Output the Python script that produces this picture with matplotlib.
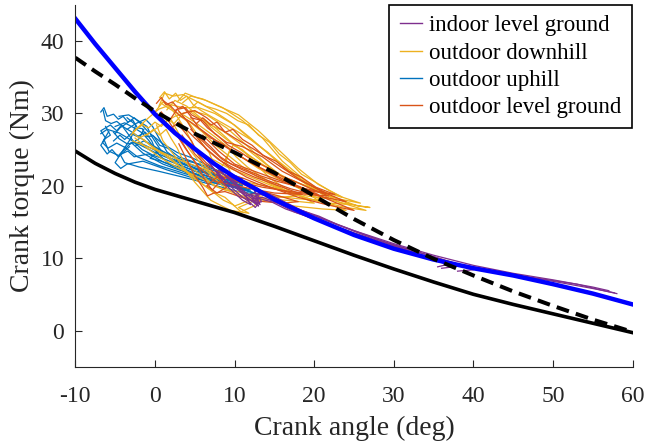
import matplotlib
matplotlib.use("Agg")
import matplotlib.pyplot as plt
from matplotlib.lines import Line2D

plt.rcParams["font.family"] = ["Liberation Serif", "DejaVu Serif"]
plt.rcParams["axes.unicode_minus"] = False

# model curves
model_x = [-10, -7.5, -5, -2.5, 0, 2.5, 5, 7.5, 10, 15, 20, 25, 30, 35, 40, 45, 50, 55, 60]
fit_blue = [43.1, 39.6, 36.3, 33.0, 29.9, 27.3, 25.1, 23.0, 21.2, 18.1, 15.5, 13.2, 11.3, 9.8, 8.6, 7.6, 6.4, 5.1, 3.6]
model_dashed = [37.7, 35.8, 34.0, 32.1, 30.3, 28.7, 27.2, 25.9, 24.6, 21.8, 18.6, 15.4, 12.5, 9.9, 7.6, 5.4, 3.4, 1.5, -0.2]
model_solid = [24.8, 23.1, 21.7, 20.5, 19.5, 18.7, 17.9, 17.1, 16.3, 14.4, 12.4, 10.4, 8.5, 6.7, 5.0, 3.6, 2.3, 1.0, -0.3]

# measured traces: (angle, torque) per trace
uphill = [
    [(-6.5, 30.4), (-6.2, 29.0), (-5.5, 28.6), (-4.8, 28.9), (-3.9, 28.1), (-3.0, 27.5), (-1.8, 26.6),
     (0.5, 25.0), (3.0, 23.6), (6.0, 22.3), (9.0, 21.0), (11.5, 20.1), (12.5, 19.8), (10.0, 20.6),
     (6.5, 21.8), (3.0, 23.2), (0.0, 24.6), (-2.5, 26.0), (-4.5, 27.3), (-6.0, 27.8), (-6.8, 27.2)],
    [(-5.8, 27.5), (-6.6, 26.0), (-5.9, 25.2), (-4.8, 25.9), (-3.6, 25.2), (-2.2, 24.0), (0.5, 22.8),
     (4.0, 21.6), (7.5, 20.6), (10.5, 19.8), (12.0, 19.2), (9.0, 20.0), (5.0, 21.0), (1.5, 22.2),
     (-1.5, 23.4), (-3.5, 23.0), (-4.3, 22.4), (-5.0, 23.2), (-4.2, 24.6), (-3.0, 26.6), (-2.4, 28.4),
     (-3.5, 29.4)],
    [(-4.5, 29.6), (-3.3, 29.8), (-2.1, 29.0), (-1.0, 28.2), (-0.5, 27.0), (0.2, 25.8), (1.0, 24.5),
     (2.5, 23.2), (5.0, 22.0), (8.0, 20.8), (11.0, 19.6), (13.0, 18.8), (10.5, 19.2), (7.0, 20.2),
     (3.5, 21.2), (0.5, 22.0), (-2.0, 22.6), (-3.8, 23.2), (-4.4, 24.4), (-3.2, 25.7), (-2.0, 26.5),
     (-1.4, 27.8)],
    [(-5.0, 28.2), (-3.8, 28.7), (-2.6, 28.0), (-1.6, 27.3), (-0.8, 26.3), (0.5, 24.3), (2.0, 22.8),
     (4.5, 21.8), (7.0, 21.2), (9.5, 20.4), (11.0, 20.0), (8.0, 21.2), (5.0, 22.5), (2.0, 23.8),
     (-0.5, 25.2), (-2.0, 26.0), (-3.5, 25.8), (-4.5, 26.5), (-5.2, 27.4)],
    [(-3.5, 27.8), (-2.4, 28.6), (-1.2, 29.2), (-0.3, 28.2), (0.5, 26.6), (1.5, 24.7), (3.5, 23.0),
     (6.5, 21.7), (9.0, 20.6), (12.0, 19.4), (8.5, 20.4), (5.5, 21.4), (3.0, 22.2), (1.0, 23.0),
     (-1.5, 24.5), (-3.0, 26.0)],
    [(-6.8, 30.2), (-6.4, 30.8), (-6.0, 29.6), (-5.2, 29.9), (-4.6, 29.2), (-4.0, 29.6), (-3.4, 28.8),
     (-2.8, 29.1), (-2.2, 28.0), (-1.6, 27.9), (-1.0, 26.8), (-0.2, 26.9), (0.6, 25.6), (1.6, 25.2),
     (3.0, 24.0), (4.6, 23.4), (6.5, 22.4), (8.2, 21.8), (10.0, 20.8), (11.8, 20.4), (10.4, 20.0),
     (8.4, 20.6), (6.0, 21.2), (3.6, 22.4), (1.2, 23.2), (-0.8, 24.4), (-2.6, 24.0), (-3.4, 24.8),
     (-4.6, 24.2), (-5.8, 24.8), (-6.4, 26.4), (-5.6, 27.0), (-6.2, 28.2)],
    [(-5.2, 26.2), (-4.4, 27.0), (-3.8, 26.4), (-3.0, 27.2), (-2.2, 26.8), (-1.2, 27.4), (-0.4, 26.2),
     (0.2, 24.6), (-0.6, 23.8), (0.8, 23.4), (2.6, 22.6), (4.6, 21.4), (6.4, 20.6), (8.6, 20.2),
     (10.6, 19.6), (12.4, 19.0), (13.0, 19.6), (11.2, 20.4), (9.0, 21.4), (7.0, 22.6), (4.8, 23.8),
     (2.8, 24.6), (1.0, 25.8), (-0.8, 27.4), (-1.8, 28.6), (-2.6, 29.4), (-3.6, 28.6), (-4.4, 28.0),
     (-5.0, 27.2)],
    [(-3.2, 25.4), (-4.6, 24.0), (-5.4, 25.0), (-6.0, 24.4), (-6.8, 25.6), (-6.2, 26.6), (-6.8, 27.6),
     (-5.6, 28.4), (-4.8, 27.6), (-4.2, 28.4), (-3.4, 27.2), (-2.6, 26.0), (-1.6, 25.0), (-0.2, 24.2),
     (1.4, 23.6), (3.2, 22.8), (5.2, 22.0), (7.2, 21.6), (9.2, 20.8), (11.0, 21.0), (9.6, 21.6),
     (7.6, 22.2), (5.6, 23.0), (3.4, 23.6), (1.6, 24.4), (0.0, 25.4), (-1.4, 26.2), (-2.4, 25.6)],
]

downhill = [
    [(0.5, 31.0), (1.2, 32.8), (2.3, 32.4), (3.5, 32.6), (5.0, 31.8), (7.0, 30.6), (9.5, 28.8),
     (12.5, 26.0), (15.5, 23.4), (19.0, 20.4), (23.0, 17.8), (26.5, 16.6), (24.0, 17.0), (20.0, 18.0),
     (16.0, 19.4), (12.5, 21.0), (9.0, 22.6), (6.0, 24.4), (3.5, 26.4), (1.5, 28.6), (0.3, 30.0)],
    [(-1.5, 28.6), (-2.8, 27.4), (-2.0, 26.6), (-0.5, 27.4), (1.0, 28.6), (2.5, 29.6), (4.5, 30.4),
     (6.5, 29.8), (9.0, 28.0), (11.5, 25.6), (14.0, 23.0), (17.0, 20.4), (20.5, 18.0), (24.0, 16.6),
     (21.0, 16.8), (17.5, 17.2), (14.5, 17.8), (11.0, 18.6), (8.0, 19.8), (5.5, 21.2), (3.0, 22.4),
     (0.8, 23.8), (-1.0, 25.2), (-2.5, 26.6)],
    [(2.8, 31.6), (3.8, 32.8), (5.2, 32.2), (6.4, 31.8), (8.5, 30.8), (11.0, 29.0), (13.5, 26.6),
     (16.0, 23.4), (19.0, 20.6), (22.0, 18.6), (25.5, 17.2), (27.0, 17.0), (23.5, 17.6), (20.0, 18.8),
     (16.5, 20.4), (13.0, 22.4), (10.0, 24.6), (7.5, 26.8), (5.0, 28.8), (3.0, 30.2)],
    [(0.0, 30.2), (1.0, 31.6), (2.0, 30.8), (3.0, 29.2), (4.0, 27.4), (5.0, 25.2), (6.0, 23.2),
     (7.2, 21.4), (8.5, 20.6), (9.5, 21.8), (8.8, 23.6), (9.8, 25.6), (11.0, 25.0), (12.5, 23.2),
     (14.5, 21.0), (17.0, 19.2), (20.0, 17.6), (16.5, 18.0), (13.0, 18.2), (10.5, 17.0), (11.8, 16.2),
     (9.5, 16.6), (7.0, 18.0), (5.0, 20.5), (3.0, 23.4), (1.0, 26.2), (0.2, 28.4)],
    [(-3.0, 27.0), (-2.0, 28.2), (-0.8, 29.4), (0.5, 30.6), (2.0, 31.2), (3.5, 30.8), (5.5, 30.8),
     (7.5, 30.0), (10.0, 28.4), (12.0, 26.6), (14.5, 24.2), (17.0, 21.8), (19.5, 19.8), (22.0, 18.2),
     (19.0, 18.6), (15.5, 19.6), (12.0, 20.4), (9.0, 21.2), (6.0, 22.4), (3.0, 23.6), (0.5, 24.8),
     (-1.5, 25.6), (-2.8, 26.2)],
    [(1.5, 30.5), (2.5, 31.8), (4.0, 31.0), (5.5, 29.6), (7.0, 28.4), (8.5, 27.6), (10.5, 26.0),
     (13.0, 23.8), (15.5, 21.6), (18.5, 19.4), (21.0, 18.0), (18.0, 18.2), (15.0, 18.6), (12.5, 18.0),
     (10.5, 18.6), (8.5, 20.0), (6.5, 22.0), (4.5, 24.8), (3.0, 27.2), (2.0, 29.2)],
    [(3.5, 31.5), (4.5, 32.4), (6.0, 32.0), (8.0, 31.0), (10.5, 29.8), (13.0, 27.6), (15.5, 25.0),
     (18.0, 22.4), (20.5, 20.2), (23.5, 18.4), (20.5, 19.4), (17.0, 20.8), (14.0, 22.6), (11.5, 24.4),
     (9.0, 26.4), (6.5, 28.6), (4.5, 30.2)],
    [(-2.4, 27.8), (-1.6, 28.4), (-0.8, 28.0), (0.0, 28.8), (0.8, 28.2), (1.6, 29.2), (2.4, 28.6),
     (3.2, 29.6), (4.2, 28.8), (5.0, 27.6), (5.8, 26.0), (6.8, 24.6), (7.4, 23.0), (8.2, 22.4),
     (9.0, 23.6), (9.4, 25.0), (10.2, 24.0), (11.6, 22.6), (13.4, 21.2), (15.6, 19.8), (17.8, 18.6),
     (15.4, 18.4), (13.2, 18.8), (11.4, 17.8), (10.0, 17.2), (8.8, 18.4), (7.2, 19.2), (5.6, 20.6),
     (4.0, 22.0), (2.4, 23.2), (0.8, 24.6), (-0.8, 25.8), (-2.0, 26.8)],
    [(0.6, 32.2), (1.2, 33.0), (1.8, 32.0), (2.6, 32.8), (3.2, 31.8), (4.0, 32.4), (4.8, 31.2),
     (5.8, 30.4), (7.0, 29.6), (8.6, 28.6), (10.2, 27.6), (12.0, 26.4), (14.2, 24.6), (16.4, 22.4),
     (18.6, 20.6), (21.2, 19.0), (24.6, 17.4), (22.0, 17.6), (19.4, 18.2), (17.0, 19.0), (14.6, 20.2),
     (12.6, 21.4), (10.8, 22.8), (9.2, 24.2), (7.6, 25.6), (6.0, 27.4), (4.4, 28.8), (2.8, 30.0),
     (1.6, 30.8), (0.8, 31.4)],
    [(-1.0, 27.0), (-0.2, 27.8), (0.6, 27.0), (1.4, 27.8), (2.0, 26.6), (2.8, 25.2), (3.4, 23.8),
     (4.4, 22.6), (5.4, 21.8), (6.4, 21.0), (7.4, 20.0), (8.8, 19.4), (10.4, 19.2), (12.0, 18.8),
     (13.6, 18.4), (12.4, 17.2), (10.8, 16.4), (9.8, 17.4), (8.6, 18.0), (7.0, 19.4), (5.2, 20.8),
     (3.6, 22.2), (2.0, 23.8), (0.6, 24.6), (-0.6, 25.6), (-1.4, 26.4)],
    [(4.6, 30.8), (5.4, 31.6), (6.4, 31.0), (7.6, 30.6), (9.0, 30.0), (10.4, 29.0), (11.8, 28.4),
     (13.0, 27.0), (14.4, 26.0), (15.6, 24.4), (17.0, 23.2), (18.4, 21.6), (20.0, 20.6), (21.8, 19.4),
     (23.6, 18.4), (25.8, 17.6), (23.0, 18.2), (20.4, 19.2), (18.0, 20.4), (15.8, 21.4), (13.6, 22.8),
     (11.6, 24.4), (9.6, 26.0), (7.8, 27.8), (6.2, 29.2)],
]

level_out = [
    [(1.0, 31.8), (2.0, 31.0), (3.0, 29.8), (4.5, 28.8), (6.0, 27.6), (8.0, 26.0), (10.5, 24.2),
     (13.0, 22.6), (16.0, 20.8), (19.0, 19.4), (22.0, 18.0), (25.0, 16.6), (21.5, 17.4), (18.0, 18.4),
     (14.5, 19.8), (11.5, 21.2), (9.0, 22.8), (7.0, 24.6), (5.0, 26.6), (3.0, 28.8)],
    [(2.5, 30.4), (3.5, 31.0), (4.5, 29.6), (5.5, 28.0), (7.0, 26.6), (8.5, 25.8), (10.0, 24.6),
     (12.0, 23.2), (14.5, 21.8), (17.5, 20.2), (20.5, 18.8), (17.0, 19.2), (13.5, 19.8), (10.5, 20.6),
     (8.0, 21.4), (6.5, 20.0), (7.8, 19.0), (9.0, 19.8), (7.2, 22.0), (5.0, 24.4), (3.4, 27.0)],
    [(3.5, 30.0), (5.0, 30.4), (6.5, 29.4), (8.0, 28.0), (10.0, 26.6), (12.5, 25.0), (15.0, 23.2),
     (18.0, 21.0), (21.0, 19.2), (24.0, 17.8), (20.5, 18.6), (17.0, 19.6), (14.0, 20.8), (11.0, 22.2),
     (8.5, 23.6), (6.5, 25.6), (4.5, 27.8)],
    [(1.8, 29.0), (2.8, 30.6), (4.0, 29.0), (5.2, 26.8), (6.5, 25.0), (8.0, 23.6), (10.0, 22.4),
     (12.5, 21.2), (15.5, 20.0), (18.5, 18.8), (15.0, 19.0), (12.0, 19.6), (9.5, 20.2), (7.5, 20.6),
     (5.5, 22.6), (3.8, 25.2), (2.4, 27.6)],
    [(4.5, 29.4), (6.0, 29.0), (7.5, 27.2), (9.0, 26.0), (11.0, 25.4), (13.5, 24.0), (16.0, 22.0),
     (18.5, 20.6), (21.5, 19.0), (18.0, 19.8), (15.0, 21.0), (12.5, 22.0), (10.0, 23.0), (8.0, 24.8),
     (6.0, 27.0)],
    [(0.2, 31.4), (0.8, 32.2), (1.4, 31.2), (2.2, 31.6), (3.0, 30.6), (3.8, 30.8), (4.6, 29.8),
     (5.6, 29.2), (6.6, 28.0), (7.8, 27.0), (9.2, 25.6), (10.8, 24.6), (12.4, 23.4), (14.0, 22.6),
     (15.8, 21.4), (17.6, 20.6), (19.6, 19.6), (21.8, 18.6), (19.4, 18.8), (17.2, 19.0), (15.0, 19.6),
     (13.0, 20.2), (11.2, 21.0), (9.4, 21.6), (8.0, 20.4), (7.2, 19.4), (6.4, 20.6), (5.4, 22.6),
     (4.2, 24.6), (3.0, 26.8), (1.8, 28.8), (0.8, 30.2)],
    [(5.2, 28.6), (6.0, 29.4), (7.0, 28.4), (7.8, 28.8), (8.8, 27.4), (9.8, 27.8), (11.0, 26.4),
     (12.2, 25.6), (13.6, 24.2), (15.2, 23.4), (16.8, 22.0), (18.4, 21.2), (20.2, 19.8), (22.6, 18.8),
     (20.0, 19.2), (17.6, 20.0), (15.4, 20.6), (13.2, 21.4), (11.4, 22.2), (9.6, 23.0), (8.2, 24.0),
     (7.0, 25.4), (5.8, 26.6)],
    [(2.0, 28.0), (2.8, 28.6), (3.6, 27.6), (4.6, 26.2), (5.4, 24.4), (6.4, 23.2), (7.6, 22.2),
     (9.0, 21.4), (10.6, 20.4), (12.4, 19.6), (14.2, 19.0), (16.2, 18.4), (18.0, 17.8), (16.0, 17.6),
     (13.8, 17.8), (12.0, 18.0), (10.4, 18.6), (8.8, 19.2), (7.4, 19.0), (6.6, 18.6), (6.0, 19.8),
     (5.0, 21.4), (4.0, 23.6), (3.0, 25.8)],
]

indoor = [
    [(6.5, 23.6), (7.5, 22.2), (8.5, 21.0), (9.5, 20.2), (10.5, 19.4), (11.5, 18.4), (12.5, 17.6),
     (13.0, 17.2), (12.2, 18.2), (13.5, 18.4), (15.0, 17.8), (17.5, 16.4), (20.0, 15.4), (25.0, 13.3),
     (30.0, 11.4), (35.0, 9.9), (40.0, 8.7), (45.0, 7.7), (50.0, 6.8), (55.0, 5.8), (57.7, 5.2)],
    [(7.0, 23.0), (8.0, 21.4), (9.0, 20.0), (10.0, 19.0), (11.0, 18.0), (12.0, 17.4), (11.4, 18.6),
     (12.6, 19.0), (14.0, 18.6), (16.0, 17.4), (18.0, 16.4), (21.0, 15.0), (25.0, 13.5), (30.0, 11.7),
     (34.0, 10.3), (37.0, 9.2), (35.5, 8.8)],
    [(8.0, 22.4), (9.0, 21.2), (10.0, 20.2), (11.0, 19.0), (12.0, 18.0), (13.2, 17.4), (12.6, 18.6),
     (14.0, 19.0), (15.5, 18.0), (18.0, 16.8), (22.0, 15.0), (26.0, 13.3), (30.0, 11.8), (35.0, 10.2),
     (40.0, 8.4), (38.0, 8.2)],
    [(9.0, 21.8), (10.0, 20.6), (11.0, 19.4), (12.0, 18.6), (13.0, 18.0), (12.4, 19.6), (14.5, 18.6),
     (17.0, 17.2), (20.0, 15.9), (25.0, 13.8), (30.0, 12.0), (35.0, 10.4), (40.0, 9.0), (45.0, 7.9),
     (50.0, 7.0), (55.0, 6.0), (57.0, 5.5)],
    [(6.0, 24.2), (6.8, 23.4), (7.6, 22.8), (8.6, 21.6), (9.4, 21.0), (10.4, 20.0), (11.2, 19.0),
     (12.0, 18.4), (12.8, 17.6), (13.4, 17.8), (12.8, 18.8), (13.8, 19.2), (15.2, 18.4), (16.6, 17.6),
     (18.4, 16.6), (20.6, 15.8), (23.0, 14.6), (26.0, 13.4), (29.0, 12.2), (32.0, 11.2), (35.0, 10.2),
     (38.0, 9.2), (41.0, 8.6), (44.0, 8.0), (47.0, 7.4), (50.0, 6.9), (53.0, 6.4), (56.0, 5.6),
     (58.0, 5.1)],
    [(7.8, 22.0), (8.8, 20.8), (9.8, 19.6), (10.8, 18.6), (11.8, 17.8), (12.6, 17.0), (13.0, 17.6),
     (12.0, 18.8), (13.2, 18.2), (14.6, 17.8), (16.4, 16.8), (19.0, 15.8), (22.0, 14.6), (26.0, 13.0),
     (30.0, 11.6), (33.0, 10.6), (36.0, 9.4), (37.5, 8.8), (36.0, 8.6)],
]

labels = ["indoor level ground", "outdoor downhill", "outdoor uphill", "outdoor level ground"]
colors = ["#7E2F8E", "#EDB120", "#0072BD", "#D95319"]

fig = plt.figure(figsize=(6.47, 4.45), dpi=100)
ax = fig.add_axes([0.1164, 0.176, 0.978 - 0.1164, 0.989 - 0.176])

# draw traces: uphill first, then downhill, outdoor level, indoor
for group, col in [(uphill, colors[2]), (downhill, colors[1]), (level_out, colors[3]), (indoor, colors[0])]:
    for tr in group:
        xs = [p[0] for p in tr]
        ys = [p[1] for p in tr]
        ax.plot(xs, ys, color=col, lw=0.9)

ax.plot(model_x, model_solid, color="black", lw=2.6)
ax.plot(model_x, fit_blue, color="#0000FF", lw=3.2)
ax.plot(model_x, model_dashed, color="black", lw=2.9, linestyle=(0, (3.2, 1.8)))

ax.set_xlim(-10, 60)
ax.set_ylim(-5, 45)
ax.set_xticks([-10, 0, 10, 20, 30, 40, 50, 60])
ax.set_yticks([0, 10, 20, 30, 40])
ax.spines["top"].set_visible(False)
ax.spines["right"].set_visible(False)
for s in ["left", "bottom"]:
    ax.spines[s].set_color("#262626")
    ax.spines[s].set_linewidth(0.8)
ax.tick_params(direction="in", length=5, width=0.8, colors="#262626", labelsize=17)
ax.tick_params(axis="y", pad=8)
ax.tick_params(axis="x", pad=14)
ax.set_xlabel("Crank angle (deg)", fontsize=20, color="#262626", labelpad=6)
ax.set_ylabel("Crank torque (Nm)", fontsize=20, color="#262626", labelpad=4)

handles = [Line2D([], [], color=c, lw=1.0) for c in colors]
leg = ax.legend(handles, labels, loc="upper right", bbox_to_anchor=(632 / 647, 440 / 445),
                bbox_transform=fig.transFigure, borderaxespad=0, fontsize=16.5,
                handlelength=1.0, handletextpad=0.3, labelspacing=0.27, borderpad=0.45,
                fancybox=False, framealpha=1)
leg.get_frame().set_edgecolor("black")
leg.get_frame().set_linewidth(1.2)

plt.savefig("out.png", dpi=100)
